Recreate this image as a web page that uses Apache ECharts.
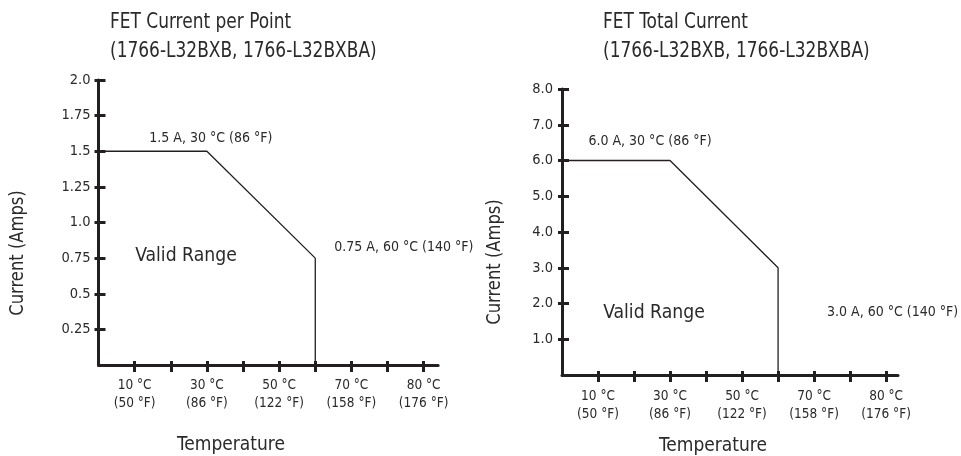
<!DOCTYPE html>
<html>
<head>
<meta charset="utf-8">
<script src="https://cdn.jsdelivr.net/npm/echarts@6/dist/echarts.min.js"></script>
<style>
html,body{margin:0;padding:0;background:#fff;}
#c{width:961px;height:456px;}
</style>
</head>
<body>
<div id="c"></div>
<script>
// ---- data ----
const tempC = [0, 30, 60, 60];
const perPointAmps = [1.5, 1.5, 0.75, 0];
const totalAmps = [6.0, 6.0, 3.0, 0];
const xLabelPos = [10, 30, 50, 70, 90];
const xLabelC = [10, 30, 50, 70, 80];
const xLabelF = [50, 86, 122, 158, 176];
const xTickPos = [10, 20, 30, 40, 50, 60, 70, 80, 90];
const yTicksLeft = [0.25, 0.5, 0.75, 1.0, 1.25, 1.5, 1.75, 2.0];
const yTicksRight = [1, 2, 3, 4, 5, 6, 7, 8];
const titleLine1 = ['FET Current per Point', 'FET Total Current'];
const titleLine2 = ['(1766-L32BXB, 1766-L32BXBA)', '(1766-L32BXB, 1766-L32BXBA)'];

const FONT = "'Liberation Sans Narrow', 'DejaVu Sans Condensed', 'Liberation Sans', sans-serif";
const INK = '#231f20';
const TXT = '#2a2a2a';

const toF = c => Math.round(c * 9 / 5 + 32);
const xLabelMap = {};
xLabelPos.forEach((p, i) => { xLabelMap[p] = xLabelC[i] + ' °C\n(' + xLabelF[i] + ' °F)'; });

function pointLabel(a, t, fmt) {
  return fmt(a) + ' A, ' + t + ' °C (' + toF(t) + ' °F)';
}
const fmtLeft = v => (Number.isInteger(v) ? v.toFixed(1) : String(v));
const fmtRight = v => v.toFixed(1);

function buildData(amps, fmt, labelCfg) {
  return tempC.map((t, i) => {
    const item = { value: [t, amps[i]] };
    if (labelCfg[i]) {
      item.label = Object.assign({
        show: true,
        formatter: pointLabel(amps[i], t, fmt),
        fontFamily: FONT, fontSize: 14, color: TXT
      }, labelCfg[i]);
    }
    return item;
  });
}

function xAxes(gridIndex, max, top) {
  const base = {
    type: 'value', gridIndex, min: 0, max, position: 'bottom',
    splitLine: { show: false }
  };
  return [
    Object.assign({}, base, {
      axisLine: { show: true, lineStyle: { color: INK, width: 3 } },
      axisTick: { show: true, inside: false, length: 7, lineStyle: { color: INK, width: 3 }, customValues: xTickPos },
      axisLabel: {
        show: true, customValues: xLabelPos, margin: top,
        formatter: v => xLabelMap[v] || '',
        fontFamily: FONT, fontSize: 13.5, lineHeight: 18, color: TXT
      }
    }),
    Object.assign({}, base, {
      axisLine: { show: false },
      axisTick: { show: true, inside: true, length: 4, lineStyle: { color: INK, width: 3 }, customValues: xTickPos },
      axisLabel: { show: false }
    })
  ];
}

function yAxes(gridIndex, max, ticks, fmt, margin) {
  const base = {
    type: 'value', gridIndex, min: 0, max, position: 'left',
    splitLine: { show: false }
  };
  return [
    Object.assign({}, base, {
      axisLine: { show: true, lineStyle: { color: INK, width: 3 } },
      axisTick: { show: true, inside: false, length: 4, lineStyle: { color: INK, width: 3 }, customValues: ticks },
      axisLabel: {
        show: true, customValues: ticks, margin,
        formatter: v => fmt(v),
        fontFamily: FONT, fontSize: 14.5, color: TXT
      }
    }),
    Object.assign({}, base, {
      axisLine: { show: false },
      axisTick: { show: true, inside: true, length: 7, lineStyle: { color: INK, width: 3 }, customValues: ticks },
      axisLabel: { show: false }
    })
  ];
}

function txt(text, x, y, size, opts) {
  opts = opts || {};
  return {
    type: 'text', x, y, rotation: opts.rotation || 0,
    scaleX: opts.sx || 1, scaleY: 1, silent: true,
    style: { text, x: 0, y: 0, align: opts.align || 'center', verticalAlign: 'middle', font: size + 'px ' + FONT, fill: TXT }
  };
}

const lineStyle = { color: INK, width: 1.3 };

const chart = echarts.init(document.getElementById('c'), null, { renderer: 'canvas' });
chart.setOption({
  animation: false,
  backgroundColor: '#fff',
  grid: [
    { left: 98.5, top: 80, width: 339.6, height: 285 },
    { left: 562, top: 89, width: 336, height: 286 }
  ],
  xAxis: [].concat(xAxes(0, 94, 11), xAxes(1, 93.3, 12)),
  yAxis: [].concat(yAxes(0, 2, yTicksLeft, fmtLeft, 8), yAxes(1, 8, yTicksRight, fmtRight, 9)),
  series: [
    {
      type: 'line', xAxisIndex: 0, yAxisIndex: 0,
      data: buildData(perPointAmps, fmtLeft, [null, { position: 'top', distance: 6, offset: [4, 0] }, { position: 'right', distance: 19, offset: [0, -11] }, null]),
      symbol: 'circle', symbolSize: 0, showSymbol: true,
      lineStyle, itemStyle: { color: INK }, silent: true
    },
    {
      type: 'line', xAxisIndex: 2, yAxisIndex: 2,
      data: buildData(totalAmps, fmtRight, [null, { position: 'top', distance: 12, offset: [-20, 0] }, { position: 'right', distance: 49, offset: [0, 45] }, null]),
      symbol: 'circle', symbolSize: 0, showSymbol: true,
      lineStyle, itemStyle: { color: INK }, silent: true
    }
  ],
  graphic: [
    txt(titleLine1[0], 110, 23, 21, { align: 'left', sx: 0.9 }),
    txt(titleLine2[0], 110, 52, 21, { align: 'left', sx: 0.9 }),
    txt(titleLine1[1], 603, 23, 21, { align: 'left', sx: 0.9 }),
    txt(titleLine2[1], 603, 52, 21, { align: 'left', sx: 0.9 }),
    txt('Current (Amps)', 18, 253, 20, { rotation: Math.PI / 2, sx: 0.91 }),
    txt('Current (Amps)', 495, 262, 20, { rotation: Math.PI / 2, sx: 0.91 }),
    txt('Temperature', 231, 445, 20, { sx: 0.95 }),
    txt('Temperature', 713, 446, 20, { sx: 0.95 }),
    txt('Valid Range', 186, 256, 20, { sx: 0.96 }),
    txt('Valid Range', 654, 313, 20, { sx: 0.96 })
  ]
});
</script>
</body>
</html>
